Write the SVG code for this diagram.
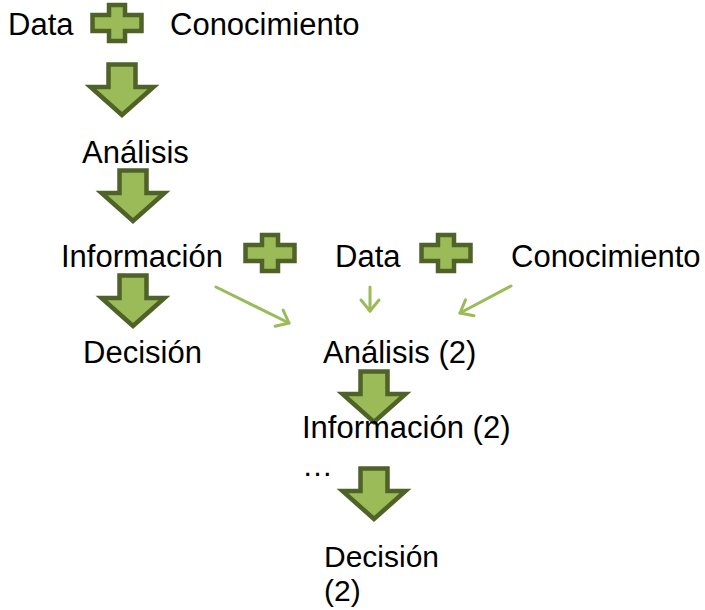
<svg xmlns="http://www.w3.org/2000/svg" width="705" height="610" viewBox="0 0 705 610">
<style>
text{font-family:"Liberation Sans",Arial,sans-serif;font-size:31px;fill:#000}
.blk{fill:#9bbb59;stroke:#4f6228;stroke-width:4.5;stroke-linejoin:miter}
.thin{fill:none;stroke:#9bbb59;stroke-width:3;stroke-linecap:round}
.sm{font-size:30px}
</style>
<defs>
<path id="plus" d="M-8,-18 H8 V-8 H24.5 V8 H8 V18 H-8 V8 H-24.5 V-8 H-8 Z"/>
<path id="down" d="M-13.5,0.5 H13.5 V23 H31.5 L0,51 L-31.5,23 H-13.5 Z"/>
<marker id="vhead" viewBox="-14 -11 16 22" refX="0" refY="0" markerWidth="16" markerHeight="22" markerUnits="userSpaceOnUse" orient="auto" overflow="visible">
<path d="M-11,-9 L0,0 L-11,9" fill="none" stroke="#9bbb59" stroke-width="3" stroke-linecap="round" stroke-linejoin="round"/>
</marker>
</defs>
<g id="n-data1"><text x="8" y="35">Data</text></g>
<g id="n-plus1"><use href="#plus" class="blk" x="117" y="23"/></g>
<g id="n-conoc1"><text x="170" y="35">Conocimiento</text></g>
<g id="n-arrow1"><use href="#down" class="blk" x="122" y="64"/></g>
<g id="n-analisis1"><text x="82" y="163">Análisis</text></g>
<g id="n-arrow2"><use href="#down" class="blk" x="133" y="170"/></g>
<g id="n-info1"><text x="61" y="267">Información</text></g>
<g id="n-plus2"><use href="#plus" class="blk" x="270" y="253"/></g>
<g id="n-data2"><text x="335" y="267">Data</text></g>
<g id="n-plus3"><use href="#plus" class="blk" x="446" y="253"/></g>
<g id="n-conoc2"><text x="511" y="267">Conocimiento</text></g>
<g id="n-arrow3"><use href="#down" class="blk" x="133" y="275"/></g>
<g id="n-decision1"><text x="83" y="363">Decisión</text></g>
<g id="n-analisis2"><text x="323" y="363">Análisis (2)</text></g>
<g id="n-arrow4"><use href="#down" class="blk" x="374" y="371"/></g>
<g id="n-info2"><text x="302" y="438">Información (2)</text></g>
<g id="n-ellipsis"><text x="302" y="476">…</text></g>
<g id="n-arrow5"><use href="#down" class="blk" x="374" y="468"/></g>
<g id="n-decision2"><text class="sm" x="324" y="567">Decisión</text><text class="sm" x="324" y="601">(2)</text></g>
<g id="connectors">
<line class="thin" x1="216" y1="287" x2="289" y2="323" marker-end="url(#vhead)"/>
<line class="thin" x1="370" y1="287" x2="370" y2="311" marker-end="url(#vhead)"/>
<line class="thin" x1="511" y1="286" x2="460" y2="313" marker-end="url(#vhead)"/>
</g>
</svg>
